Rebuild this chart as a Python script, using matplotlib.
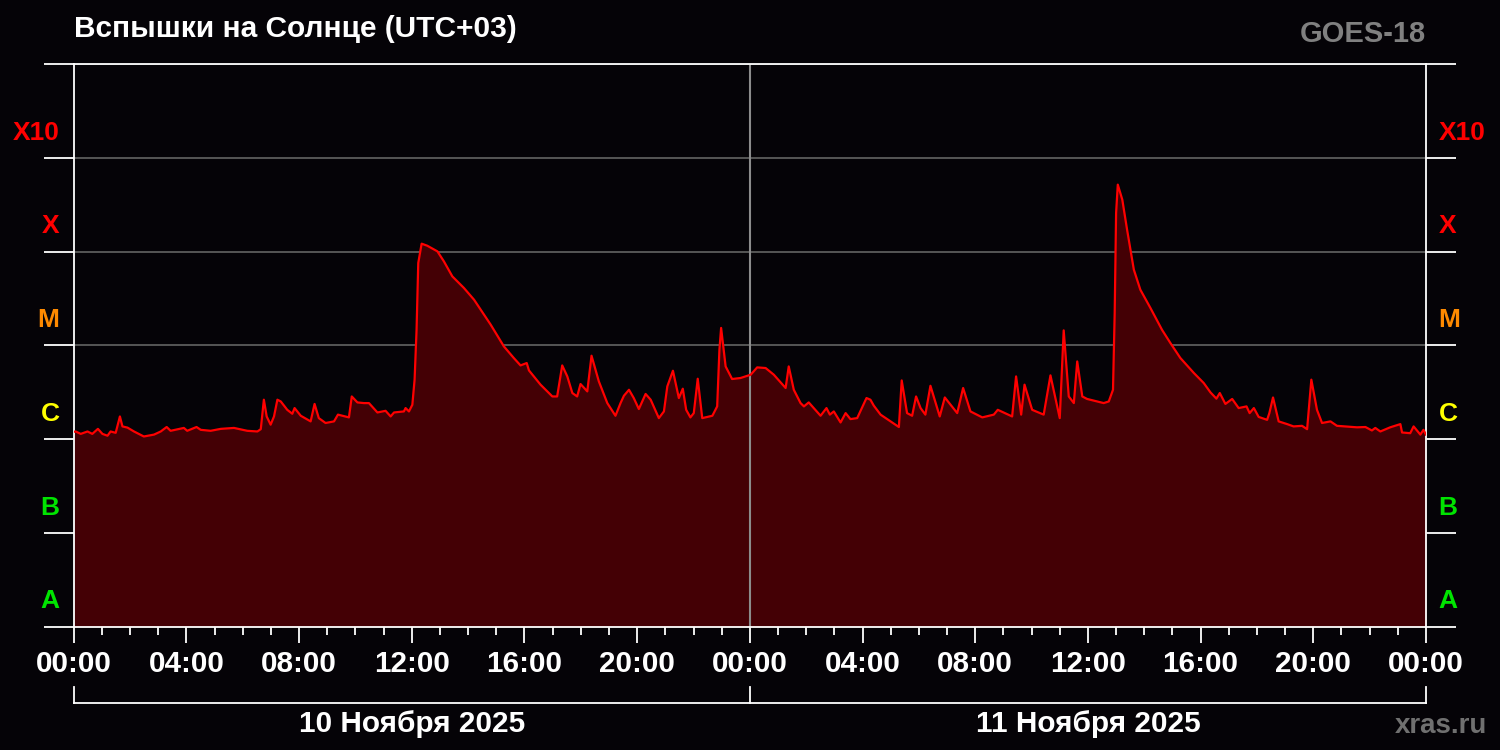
import matplotlib
matplotlib.use('Agg')
import matplotlib.pyplot as plt
import matplotlib.transforms as mtransforms
from matplotlib.ticker import FixedLocator, MultipleLocator, NullLocator, FixedFormatter

# ---------------- data ----------------
# hours since 10 Nov 2025 00:00 (UTC+03)
hours = [0, 0.07, 0.25, 0.49, 0.66, 0.86, 1.02, 1.20, 1.31, 1.49, 1.64, 1.73, 1.91, 2.14, 2.49,
         2.85, 3.09, 3.30, 3.44, 3.91, 4.03, 4.36, 4.51, 4.86, 5.22, 5.69, 6.16, 6.52, 6.64, 6.75,
         6.85, 6.99, 7.11, 7.23, 7.35, 7.58, 7.76, 7.84, 8.06, 8.41, 8.55, 8.70, 8.94, 9.24, 9.38,
         9.77, 9.87, 10.07, 10.30, 10.48, 10.78, 11.07, 11.25, 11.37, 11.72, 11.78, 11.90, 12.02,
         12.10, 12.17, 12.23, 12.35, 12.55, 12.91, 13.14, 13.44, 13.85, 14.21, 14.80, 15.27, 15.62,
         15.86, 16.08, 16.16, 16.57, 16.99, 17.16, 17.34, 17.52, 17.70, 17.87, 17.99, 18.23, 18.38,
         18.64, 18.94, 19.23, 19.41, 19.53, 19.71, 19.88, 20.06, 20.30, 20.48, 20.77, 20.95, 21.07,
         21.27, 21.48, 21.62, 21.74, 21.89, 22.01, 22.15, 22.31, 22.67, 22.84, 22.92, 22.98, 23.14,
         23.37, 23.67, 24.03, 24.26, 24.56, 24.85, 25.27, 25.38, 25.56, 25.80, 25.92, 26.09, 26.51,
         26.72, 26.84, 26.98, 27.22, 27.40, 27.57, 27.81, 28.14, 28.28, 28.40, 28.64, 29.29, 29.39,
         29.58, 29.76, 29.90, 30.06, 30.23, 30.41, 30.74, 30.92, 31.36, 31.57, 31.83, 32.25, 32.66,
         32.80, 33.31, 33.45, 33.63, 33.75, 34.02, 34.43, 34.67, 35.00, 35.14, 35.32, 35.50, 35.62,
         35.80, 35.97, 36.56, 36.74, 36.89, 36.95, 37.00, 37.06, 37.22, 37.39, 37.63, 37.86, 38.22,
         38.63, 38.93, 39.28, 39.76, 40.11, 40.35, 40.56, 40.68, 40.88, 41.12, 41.35, 41.63, 41.74,
         41.89, 42.06, 42.36, 42.44, 42.57, 42.77, 43.07, 43.30, 43.60, 43.78, 43.93, 44.13, 44.31,
         44.61, 44.84, 45.55, 45.85, 46.08, 46.20, 46.38, 46.73, 47.09, 47.15, 47.44, 47.56, 47.80,
         47.91, 48.0]

# X-ray flux, in micro-W/m^2 (1 = C1.0, 10 = M1.0, 100 = X1.0)
flux_uW = [1.20, 1.21, 1.14, 1.21, 1.14, 1.29, 1.14, 1.09, 1.21, 1.17, 1.75, 1.37, 1.33, 1.21, 1.07,
           1.12, 1.21, 1.35, 1.23, 1.32, 1.23, 1.35, 1.26, 1.23, 1.29, 1.32, 1.23, 1.21, 1.28, 2.64,
           1.75, 1.43, 1.75, 2.64, 2.53, 2.06, 1.87, 2.15, 1.78, 1.55, 2.38, 1.68, 1.49, 1.55, 1.83,
           1.71, 2.86, 2.47, 2.43, 2.43, 1.93, 2.01, 1.75, 1.93, 1.98, 2.15, 1.98, 2.33,
           4.32, 14.7, 75.9, 122, 116, 101, 79.0, 54.6, 41.1, 30.8, 16.7, 9.78, 7.36,
           6.13, 6.50, 5.42, 3.82, 2.86, 2.86, 6.13, 4.68, 3.11, 2.86, 3.88, 3.24, 7.78,
           4.14, 2.43, 1.78, 2.43, 2.91, 3.37, 2.75, 2.10, 3.04, 2.64, 1.68, 1.98, 3.66,
           5.38, 2.75, 3.46, 2.06, 1.71, 1.90, 4.42, 1.68, 1.78, 2.24, 9.02, 15.4, 5.98,
           4.39, 4.50, 4.88, 5.84, 5.75, 4.88, 3.52, 5.98, 3.37, 2.43, 2.24, 2.47, 1.78,
           2.15, 1.83, 1.98, 1.51, 1.90, 1.64, 1.68, 2.75, 2.64, 2.28, 1.83, 1.35, 4.24,
           1.90, 1.78, 2.86, 2.15, 1.83, 3.72, 1.75, 2.79, 1.90, 3.52, 1.98, 1.71, 1.83,
           2.06, 1.75, 4.68, 1.83, 3.82, 2.06, 1.83, 4.80, 1.68, 14.5, 2.86, 2.43, 6.76,
           2.86, 2.69, 2.43, 2.53, 3.37, 22.2, 259, 520, 360, 172, 64.4, 39.4, 25.1,
           14.7, 10.6, 7.36, 5.09, 3.98, 3.16, 2.71, 3.11, 2.38, 2.69, 2.15, 2.24, 1.90,
           2.15, 1.73, 1.61, 1.90, 2.79, 1.55, 1.45, 1.37, 1.39, 1.28, 4.32, 2.06, 1.49,
           1.55, 1.39, 1.34, 1.35, 1.24, 1.32, 1.21, 1.34, 1.45, 1.18, 1.16, 1.37, 1.12,
           1.26, 1.12]

xtick_hours = [0, 4, 8, 12, 16, 20, 24, 28, 32, 36, 40, 44, 48]
xtick_labels = ['00:00', '04:00', '08:00', '12:00', '16:00', '20:00', '00:00',
                '04:00', '08:00', '12:00', '16:00', '20:00', '00:00']
day_edges = [0, 24, 48]
day_centers = [12, 36]
date_labels = ['10 Ноября 2025', '11 Ноября 2025']

class_labels = ['A', 'B', 'C', 'M', 'X', 'X10']
class_lower = [0.01, 0.1, 1, 10, 100, 1000]
class_colors = ['#00e400', '#00e400', '#ffff00', '#ff8a00', '#ff0000', '#ff0000']
decades = [0.01, 0.1, 1, 10, 100, 1000, 10000]

title = 'Вспышки на Солнце (UTC+03)'
satellite = 'GOES-18'
source = 'xras.ru'

# ---------------- style ----------------
plt.rcParams['font.family'] = ['Liberation Sans', 'DejaVu Sans']
plt.rcParams['font.weight'] = 'bold'

BG = '#050307'
W, H = 1500, 750
fig = plt.figure(figsize=(15, 7.5), dpi=100, facecolor=BG)
L, R, T, B = 73.7, 1426.0, 64.3, 626.7
ax = fig.add_axes([L / W, 1 - B / H, (R - L) / W, (B - T) / H])
ax.set_facecolor(BG)
ax.set_yscale('log')
ax.set_ylim(decades[0], decades[-1])
ax.set_xlim(day_edges[0], day_edges[-1])

ax.set_axisbelow(True)
ax.fill_between(hours, decades[0], flux_uW, color='#440005', lw=0, zorder=1)
ax.axvline(day_edges[1], color='#8c8c8c', lw=1.5, zorder=2)
ax.plot(hours, flux_uW, color='#ff0000', lw=1.6, zorder=3, solid_joinstyle='round')

ax.yaxis.set_major_locator(FixedLocator(decades))
ax.yaxis.set_minor_locator(NullLocator())
ax.grid(axis='y', which='major', color='#565656', lw=1.4)
ax.tick_params(axis='y', which='major', direction='out', length=21.9, width=1.3,
               color='white', left=True, right=True, labelleft=False, labelright=False)

ax.xaxis.set_major_locator(FixedLocator(xtick_hours))
ax.xaxis.set_major_formatter(FixedFormatter(xtick_labels))
ax.xaxis.set_minor_locator(MultipleLocator(1))
ax.tick_params(axis='x', which='major', direction='out', length=11.5, width=1.3,
               color='white', labelcolor='white', labelsize=21.3, pad=5.0)
ax.tick_params(axis='x', which='minor', direction='out', length=5.8, width=1.3, color='white')
for s in ax.spines.values():
    s.set_color('white')
    s.set_linewidth(1.3)

# bracket under the time axis
tr = mtransforms.blended_transform_factory(ax.transData, fig.transFigure)
yb, yt = 1 - 702.7 / H, 1 - 687.3 / H
ax.plot([day_edges[0], day_edges[-1]], [yb, yb], color='white', lw=1.3, transform=tr, clip_on=False)
for d in day_edges:
    ax.plot([d, d], [yb, yt], color='white', lw=1.3, transform=tr, clip_on=False)
for c, lab in zip(day_centers, date_labels):
    ax.text(c, 1 - 731.7 / H, lab, transform=tr, ha='center', va='baseline',
            color='white', fontsize=21.4)

# class labels on both sides
trl = mtransforms.blended_transform_factory(fig.transFigure, ax.transData)
for lab, low, col in zip(class_labels, class_lower, class_colors):
    yv = low * 1.57
    ax.text(59.5 / W, yv, lab, transform=trl, ha='right', va='baseline', color=col, fontsize=19)
    ax.text(1438.5 / W, yv, lab, transform=trl, ha='left', va='baseline', color=col, fontsize=19)

fig.text(74 / W, 1 - 37 / H, title, ha='left', va='baseline', color='white', fontsize=21.5)
fig.text(1425.7 / W, 1 - 42.3 / H, satellite, ha='right', va='baseline', color='#808080', fontsize=21)
fig.text(1486.7 / W, 1 - 732.7 / H, source, ha='right', va='baseline', color='#707070', fontsize=20)

fig.savefig('out.png', dpi=100, facecolor=BG)
